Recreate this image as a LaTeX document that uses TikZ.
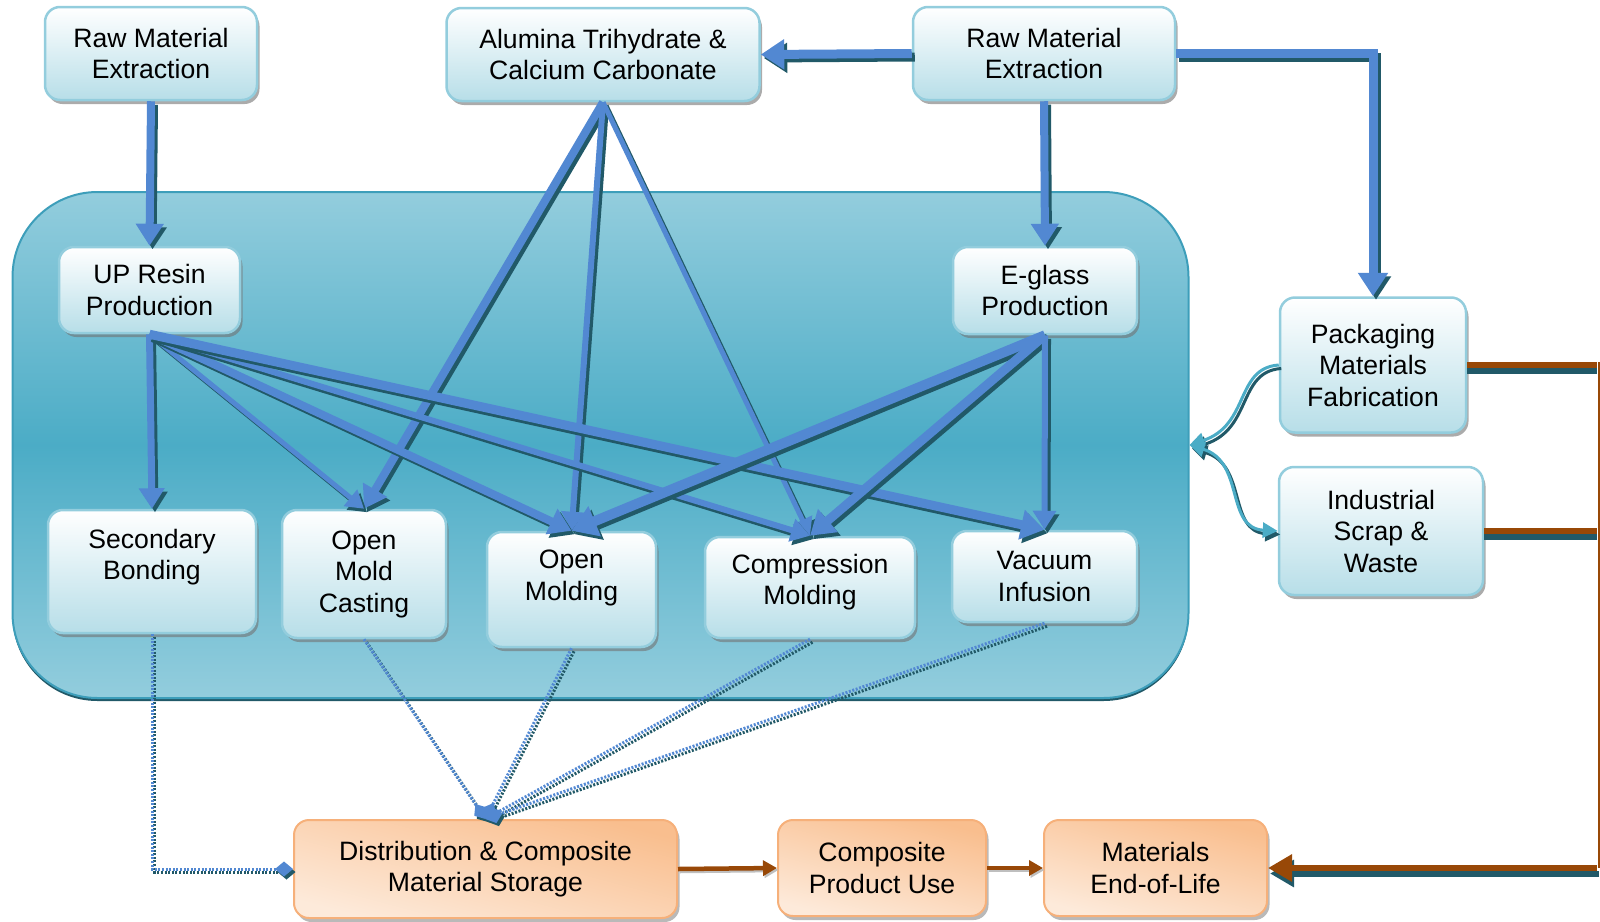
\documentclass[tikz,border=0pt]{standalone}
\usepackage{fontspec}
\setmainfont{Liberation Sans}
\usetikzlibrary{arrows.meta,shadows,calc}
\definecolor{flowblue}{HTML}{5288D2}
\definecolor{flowdark}{HTML}{215968}
\definecolor{aquadeep}{HTML}{4BACC6}
\definecolor{aqualight}{HTML}{93CDDD}
\definecolor{aquapale}{HTML}{B7DEE8}
\definecolor{aquaedge}{HTML}{3D9EBA}
\definecolor{peach}{HTML}{F9BE8E}
\definecolor{peachedge}{HTML}{F6B07A}
\definecolor{peachpale}{HTML}{FDEADA}
\definecolor{rust}{HTML}{984807}

\begin{document}
\begin{tikzpicture}[x=1pt,y=-1pt,
  every node/.style={font=\fontsize{26.6}{31.5}\selectfont, align=center, inner sep=0pt},
  bluebox/.style={draw=aqualight, line width=2.5pt, rounded corners=15pt,
    top color=white, bottom color=aquapale,
    drop shadow={shadow xshift=2.5pt, shadow yshift=-4pt, fill=black!55, opacity=0.6}},
  peachbox/.style={draw=peachedge, line width=2pt, rounded corners=15pt,
    top color=peach, bottom color=peachpale, shading angle=-15,
    drop shadow={shadow xshift=2.5pt, shadow yshift=-4pt, fill=black!50, opacity=0.55}},
  plantbox/.style={draw=aquaedge, line width=2pt, rounded corners=85pt,
    top color=aqualight, bottom color=aqualight, middle color=aquadeep,
    drop shadow={shadow xshift=0pt, shadow yshift=-3pt, fill=flowdark, opacity=1}},
  bflow/.style={line width=#1, draw=flowblue,
    -{Triangle[width=10pt 2.1, length=10pt 1.5]},
    preaction={draw=flowdark, line width=#1, transform canvas={xshift=3pt, yshift=-3.5pt}}},
  dflow/.style={line width=3pt, draw=flowblue, dash pattern=on 2pt off 1.6pt,
    -{Diamond[width=15pt, length=18pt]},
    preaction={draw=flowdark, line width=3pt, dash pattern=on 2pt off 1.6pt, transform canvas={xshift=2.5pt, yshift=-3pt}}},
  rustline/.style={line width=6pt, draw=rust,
    preaction={draw=flowdark, line width=6pt, transform canvas={yshift=-5.5pt}}},
  rustarrow/.style={line width=6pt, draw=rust,
    -{Triangle[width=26pt, length=24pt]},
    preaction={draw=flowdark, line width=6pt, transform canvas={xshift=2pt, yshift=-5.5pt}}},
  rustshort/.style={line width=4.5pt, draw=rust,
    -{Triangle[width=15pt, length=14pt]},
    preaction={draw=black!25, line width=4.5pt, transform canvas={xshift=1.5pt, yshift=-2pt}}},
  tealflow/.style={line width=3pt, draw=aquadeep,
    preaction={draw=flowdark, line width=3pt, transform canvas={xshift=2.5pt, yshift=-3.5pt}}}
]
\useasboundingbox (0,0) rectangle (1600,921);

% plant boundary
\node[plantbox, minimum width=1176pt, minimum height=506pt] (plant) at (600.5,445) {};

% upstream supply
\node[bluebox, minimum width=212pt, minimum height=93pt] (rm1) at (151,53.5) {Raw Material\\Extraction};
\node[bluebox, minimum width=313pt, minimum height=93pt] (alu) at (603,54.5) {Alumina Trihydrate \&\\Calcium Carbonate};
\node[bluebox, minimum width=262pt, minimum height=93pt] (rm2) at (1044,53.5) {Raw Material\\Extraction};

% production steps inside the plant
\node[bluebox, minimum width=181pt, minimum height=86pt] (upr) at (149.5,290) {UP Resin\\Production};
\node[bluebox, minimum width=184pt, minimum height=87pt] (egl) at (1045,290.5) {E-glass\\Production};
\node[bluebox, minimum width=208pt, minimum height=123pt] (sb) at (152,571.5) {};
\node (sbt) at (152,557) {Secondary\\Bonding};
\node[bluebox, minimum width=164pt, minimum height=128pt] (omc) at (364,574) {Open\\Mold\\Casting};
\node[bluebox, minimum width=169pt, minimum height=115pt] (om) at (571.5,589.5) {};
\node (omt) at (571.5,578) {Open\\Molding};
\node[bluebox, minimum width=210pt, minimum height=101pt] (cm) at (810,587.5) {};
\node (cmt) at (810,582) {Compression\\Molding};
\node[bluebox, minimum width=185pt, minimum height=91pt] (vi) at (1044.5,576.5) {Vacuum\\Infusion};

% side streams
\node[bluebox, minimum width=186pt, minimum height=135pt] (pk) at (1373,365) {Packaging\\Materials\\Fabrication};
\node[bluebox, minimum width=204pt, minimum height=128pt] (isw) at (1381,531) {Industrial\\Scrap \&\\Waste};

% downstream
\node[peachbox, minimum width=383pt, minimum height=98pt] (dist) at (485.5,869) {Distribution \& Composite\\Material Storage};
\node[peachbox, minimum width=208pt, minimum height=96pt] (cpu) at (882,868) {Composite\\Product Use};
\node[peachbox, minimum width=223pt, minimum height=96pt] (eol) at (1155.5,868) {Materials\\End-of-Life};

% material flows
\draw[bflow=8pt] (rm1.south) -- (upr.north);
\draw[bflow=9pt] (rm2.west) -- (alu.east);
\draw[bflow=9pt] (rm2.east) -- (rm2.east -| pk.north) -- (pk.north);
\draw[bflow=8pt] (rm2.south) -- (egl.north);

\draw[bflow=8pt] (alu.south) -- (omc.north);
\draw[bflow=6pt] (alu.south) -- (om.north);
\draw[bflow=5pt] (alu.south) -- (cm.north);

\draw[bflow=7pt] (upr.south) -- (sb.north);
\draw[bflow=5pt] (upr.south) -- (omc.north);
\draw[bflow=8pt] (upr.south) -- (om.north);
\draw[bflow=6pt] (upr.south) -- (cm.north);
\draw[bflow=9pt] (upr.south) -- (vi.north);

\draw[bflow=10pt] (egl.south) -- (om.north);
\draw[bflow=9pt] (egl.south) -- (cm.north);
\draw[bflow=6pt] (egl.south) -- (vi.north);

% products to storage
\draw[dflow] (sb.south) -- (sb.south |- dist.west) -- (dist.west);
\draw[dflow] (omc.south) -- (dist.north);
\draw[dflow] (om.south) -- (dist.north);
\draw[dflow] (cm.south) -- (dist.north);
\draw[dflow] (vi.south) -- (dist.north);

% use phase
\draw[rustshort] (dist.east) -- (cpu.west);
\draw[rustshort] (cpu.east) -- (eol.west);

% end-of-life return rail
\coordinate (rail) at (1597,0);
\draw[rustline] (pk.east) -- (pk.east -| rail);
\draw[rustline] (isw.east) -- (isw.east -| rail);
\draw[rust, line width=2pt] ($(pk.east -| rail)+(1.5,-3)$) -- ($(eol.east -| rail)+(1.5,0)$);
\draw[rustarrow] (eol.east -| rail) -- (eol.east);

% exchange with the plant
\draw[tealflow, -{Triangle[width=15pt, length=15pt]}] (pk.west) .. controls (1235,368) and (1250,425) .. (plant.east);
\draw[tealflow, {Triangle[width=15pt, length=15pt]}-{Triangle[width=15pt, length=15pt]}] (plant.east) .. controls (1245,462) and (1225,528) .. (isw.west);
\end{tikzpicture}
\end{document}
